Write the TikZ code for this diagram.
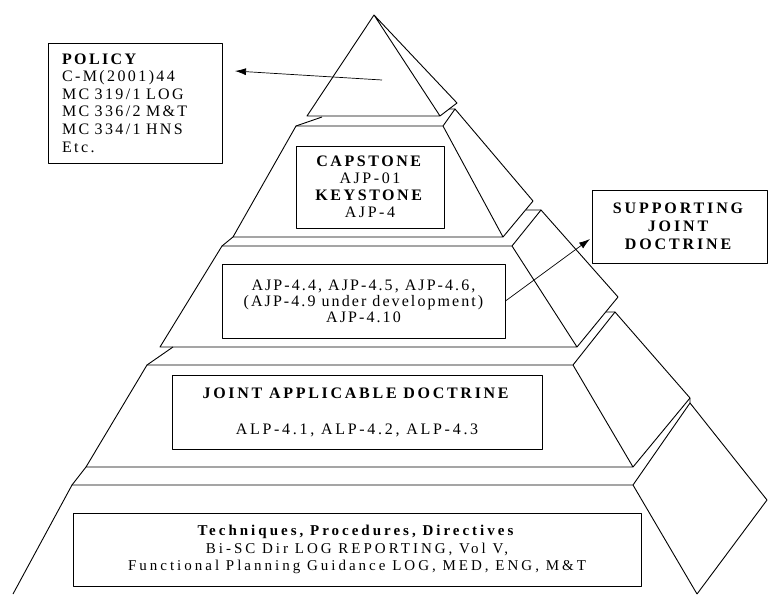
\documentclass[tikz,border=0pt]{standalone}
\usepackage{fontspec}
\setmainfont{Liberation Serif}
\usetikzlibrary{arrows.meta}

\begin{document}
\begin{tikzpicture}[x=1pt,y=-1pt,line join=round,
    face/.style={draw,line width=0.9pt},
    txtbox/.style={draw,line width=0.9pt,fill=white,inner sep=0pt,align=center},
    link/.style={line width=0.7pt,-{Latex[length=11pt,width=7pt]}}]
    \useasboundingbox (0,0) rectangle (770,594);
    % tiers, top to bottom
    \draw[face] (374,15)--(307,116)--(440,116)--cycle (374,15)--(457,103)--(440,116);
    \draw[face] (296,126)--(443,126)--(503,237)--(233,237)--cycle (443,126)--(455,109)--(533,201)--(503,237);
    \draw[face] (222,246)--(512,246)--(577,347)--(160,347)--cycle (512,246)--(541,210)--(618,297)--(577,347);
    \draw[face] (147,365)--(573,365)--(633,467)--(86,467)--cycle (573,365)--(615,312)--(690,398)--(633,467);
    \draw[face] (13,594)--(72,485)--(633,485)--(697,594) (633,485)--(690,403)--(767,500)--(697,594);
    % slabs between the tiers
    \draw[face] (322,117)--(296,126) (449,109)--(455,109);
    \draw[face] (233,237)--(222,246) (526,210)--(541,210);
    \draw[face] (173,347)--(147,365) (606,312)--(615,312);
    \draw[face] (86,467)--(72,485) (690,398)--(690,403);
    % text boxes
    \node[txtbox,minimum width=174,minimum height=120,text width=146,align=left,
        font=\fontsize{16}{17.6}\selectfont\addfontfeature{LetterSpace=15}] (policy) at (135,103)
        {\textbf{POLICY}\\C-M(2001)44\\MC 319/1 LOG\\MC 336/2 M\&T\\MC 334/1 HNS\\Etc.};
    \node[txtbox,minimum width=148,minimum height=82,
        font=\fontsize{16}{17}\selectfont\addfontfeature{LetterSpace=16}] (capstone) at (370,187)
        {\textbf{CAPSTONE}\\AJP-01\\\textbf{KEYSTONE}\\AJP-4};
    \node[txtbox,minimum width=283,minimum height=74,
        font=\fontsize{16}{16}\selectfont\addfontfeature{LetterSpace=13}] (ajp) at (363.5,301)
        {AJP-4.4, AJP-4.5, AJP-4.6,\\(AJP-4.9 under development)\\AJP-4.10};
    \node[txtbox,minimum width=175,minimum height=73,
        font=\fontsize{16}{18}\selectfont\addfontfeature{LetterSpace=18}] (support) at (679.5,226.5)
        {\textbf{SUPPORTING}\\\textbf{JOINT}\\\textbf{DOCTRINE}};
    \node[txtbox,minimum width=370,minimum height=74,
        font=\fontsize{16}{18}\selectfont\addfontfeature{LetterSpace=17}] (jad) at (357,412)
        {\textbf{JOINT APPLICABLE DOCTRINE}\\[18pt]ALP-4.1, ALP-4.2, ALP-4.3};
    \node[txtbox,minimum width=568,minimum height=73,
        font=\fontsize{15}{17.5}\selectfont\addfontfeature{LetterSpace=20}] (ttp) at (357,549.5)
        {\textbf{Techniques, Procedures, Directives}\\Bi-SC Dir LOG REPORTING, Vol V,\\Functional Planning Guidance LOG, MED, ENG, M\&T};
    % arrows
    \coordinate (polTail) at (382,80);
    \coordinate (polTip) at (235,71);
    \coordinate (supTip) at (590,239);
    \draw[link] (polTail)--(polTip);
    \draw[link] (ajp.east)--(supTip);
\end{tikzpicture}
\end{document}
